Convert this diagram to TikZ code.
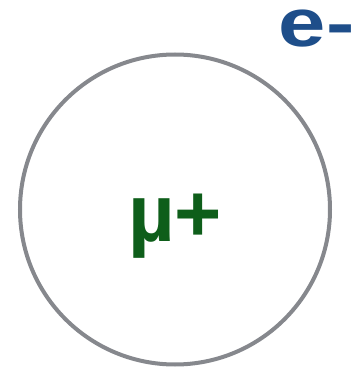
\documentclass[tikz,border=0pt]{standalone}
\usepackage{fontspec}
\setmainfont{Liberation Sans}
\usetikzlibrary{positioning}
\definecolor{shellgray}{RGB}{134,136,141}
\definecolor{muongreen}{RGB}{14,94,26}
\definecolor{elecblue}{RGB}{30,78,138}
\tikzset{
  orbit/.style={draw=shellgray,line width=4pt},
  particle/.style={inner sep=0pt,font=\bfseries}
}
\begin{document}
\begin{tikzpicture}[x=1pt,y=1pt]
  \useasboundingbox (0,0) rectangle (353,368);
  \coordinate (c) at (175,158.5);
  \draw[orbit] (c) circle (155);
  \node[particle,text=muongreen,anchor=base] (mu) at (175,127)
    {\fontsize{81}{96}\selectfont µ+};
  \node[particle,text=elecblue,anchor=base west,xscale=1.25] (e) at (278.5,322)
    {\fontsize{68}{80}\selectfont e-};
\end{tikzpicture}
\end{document}
